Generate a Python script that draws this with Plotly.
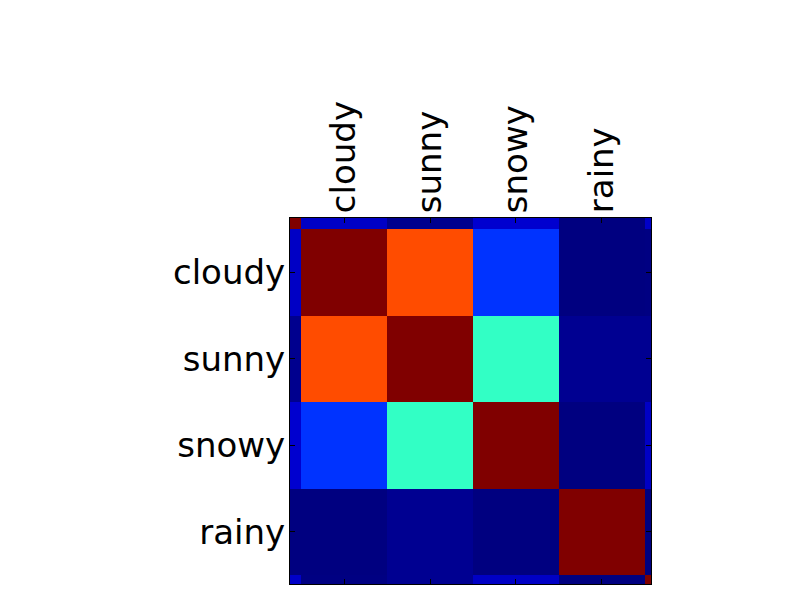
import numpy as np
import plotly.graph_objects as go

# weather categories; the first and last entries are the extra rows that only show as slivers
labels = ["", "cloudy", "sunny", "snowy", "rainy", ""]
positions = [0, 1, 2, 3, 4, 5]

row_0 = [1.00, 0.060, 0.012, 0.068, 0.000, 0.062]
row_cloudy = [0.060, 1.00, 0.830, 0.175, 0.000, 0.002]
row_sunny = [0.012, 0.830, 1.00, 0.410, 0.015, 0.015]
row_snowy = [0.068, 0.175, 0.410, 1.00, 0.000, 0.060]
row_rainy = [0.000, 0.000, 0.015, 0.000, 1.00, 0.000]
row_5 = [0.062, 0.002, 0.015, 0.060, 0.000, 1.00]

matrix = [row_0, row_cloudy, row_sunny, row_snowy, row_rainy, row_5]

# matplotlib "jet" colormap
stops = [0, 0.11, 0.125, 0.34, 0.35, 0.375, 0.64, 0.65, 0.66, 0.89, 0.91, 1]
red = np.interp(stops, [0, 0.35, 0.66, 0.89, 1], [0, 0, 1, 1, 0.5])
green = np.interp(stops, [0, 0.125, 0.375, 0.64, 0.91, 1], [0, 0, 1, 1, 0, 0])
blue = np.interp(stops, [0, 0.11, 0.34, 0.65, 1], [0.5, 1, 1, 0, 0])
jet = [[s, "rgb(%d,%d,%d)" % (round(r * 255), round(g * 255), round(b * 255))]
       for s, r, g, b in zip(stops, red, green, blue)]

fig = go.Figure(go.Heatmap(
    z=matrix, x=positions, y=positions,
    colorscale=jet, zmin=0, zmax=1,
    showscale=False, hoverinfo="skip",
))

axis_style = dict(
    tickvals=positions[1:5], ticktext=labels[1:5],
    ticks="inside", ticklen=5, tickcolor="black",
    showline=True, linecolor="black", linewidth=1, mirror="ticks",
    showgrid=False, zeroline=False, ticklabelstandoff=-3,
    tickfont=dict(family="DejaVu Sans", size=34, color="black"),
)

fig.update_layout(
    width=800, height=600,
    margin=dict(l=282, r=157, t=210, b=24),
    paper_bgcolor="white", plot_bgcolor="white",
    xaxis=dict(range=[0.372, 4.57], side="top", tickangle=-90, **axis_style),
    yaxis=dict(range=[4.605, 0.372], **axis_style),
)

fig.write_html("out.html")
